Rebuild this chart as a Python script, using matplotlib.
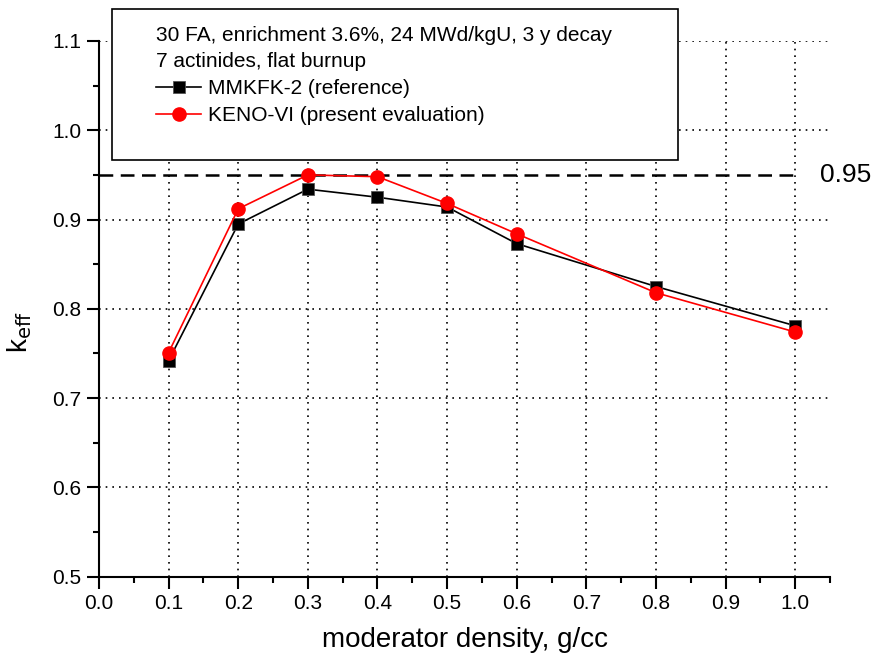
import matplotlib.pyplot as plt
from matplotlib.patches import Rectangle
from matplotlib.ticker import MultipleLocator

plt.rcParams['font.family'] = ['Liberation Sans', 'DejaVu Sans']

# data
density = [0.1, 0.2, 0.3, 0.4, 0.5, 0.6, 0.8, 1.0]
k_mmkfk = [0.742, 0.895, 0.934, 0.925, 0.914, 0.873, 0.825, 0.781]
k_keno = [0.751, 0.912, 0.950, 0.948, 0.918, 0.884, 0.818, 0.774]
limit = 0.95

fig = plt.figure(figsize=(8.73, 6.64), dpi=100)
ax = fig.add_axes([0.1134, 0.1315, 0.8374, 0.8068])

# dotted grid
ax.grid(True, linestyle=(0, (1, 3)), color='black', linewidth=1.2)
ax.set_axisbelow(True)

# 0.95 limit line
ax.plot([0.0, 1.0], [limit, limit], color='black', linestyle=(0, (5.5, 3)), linewidth=1.8)
ax.text(1.035, limit, "0.95", fontsize=19, va='center', ha='left')

# series
ax.plot(density, k_mmkfk, color='black', linewidth=1.2, marker='s', markersize=8.5,
        markeredgecolor='#555555', markeredgewidth=0.6, label='MMKFK-2 (reference)')
ax.plot(density, k_keno, color='red', linewidth=1.2, marker='o', markersize=9.5,
        markeredgecolor='red', label='KENO-VI (present evaluation)')

ax.set_xlim(0.0, 1.05)
ax.set_ylim(0.5, 1.1)
ax.xaxis.set_major_locator(MultipleLocator(0.1))
ax.xaxis.set_minor_locator(MultipleLocator(0.05))
ax.yaxis.set_major_locator(MultipleLocator(0.1))
ax.yaxis.set_minor_locator(MultipleLocator(0.05))
ax.xaxis.set_major_formatter(lambda v, p: f"{v:.1f}")
ax.yaxis.set_major_formatter(lambda v, p: f"{v:.1f}")

for side in ['top', 'right']:
    ax.spines[side].set_visible(False)
for side in ['left', 'bottom']:
    ax.spines[side].set_linewidth(1.5)

ax.tick_params(which='major', direction='out', length=8.5, width=1.5, labelsize=15, pad=4)
ax.tick_params(which='minor', direction='out', length=4, width=1.5)

ax.set_xlabel("moderator density, g/cc", fontsize=20, labelpad=10)
ax.set_ylabel(r"k$_{\mathrm{eff}}$", fontsize=20)
ax.yaxis.set_label_coords(-0.089, 0.457)

# legend box with two lines of header text
fig.patches.append(Rectangle((0.1283, 0.759), 0.6483, 0.2274, transform=fig.transFigure,
                             facecolor='white', edgecolor='black', linewidth=1.2, zorder=5))
fig.text(0.1787, 0.947, "30 FA, enrichment 3.6%, 24 MWd/kgU, 3 y decay",
         fontsize=15, va='center', zorder=6)
fig.text(0.1787, 0.907, "7 actinides, flat burnup", fontsize=15, va='center', zorder=6)
leg = fig.legend(loc='upper left', bbox_to_anchor=(0.1787, 0.881), frameon=False,
                 fontsize=15, handlelength=2.16, handletextpad=0.34, labelspacing=0.4,
                 borderaxespad=0, borderpad=0)
leg.set_zorder(7)

fig.savefig("out.png", dpi=100)
